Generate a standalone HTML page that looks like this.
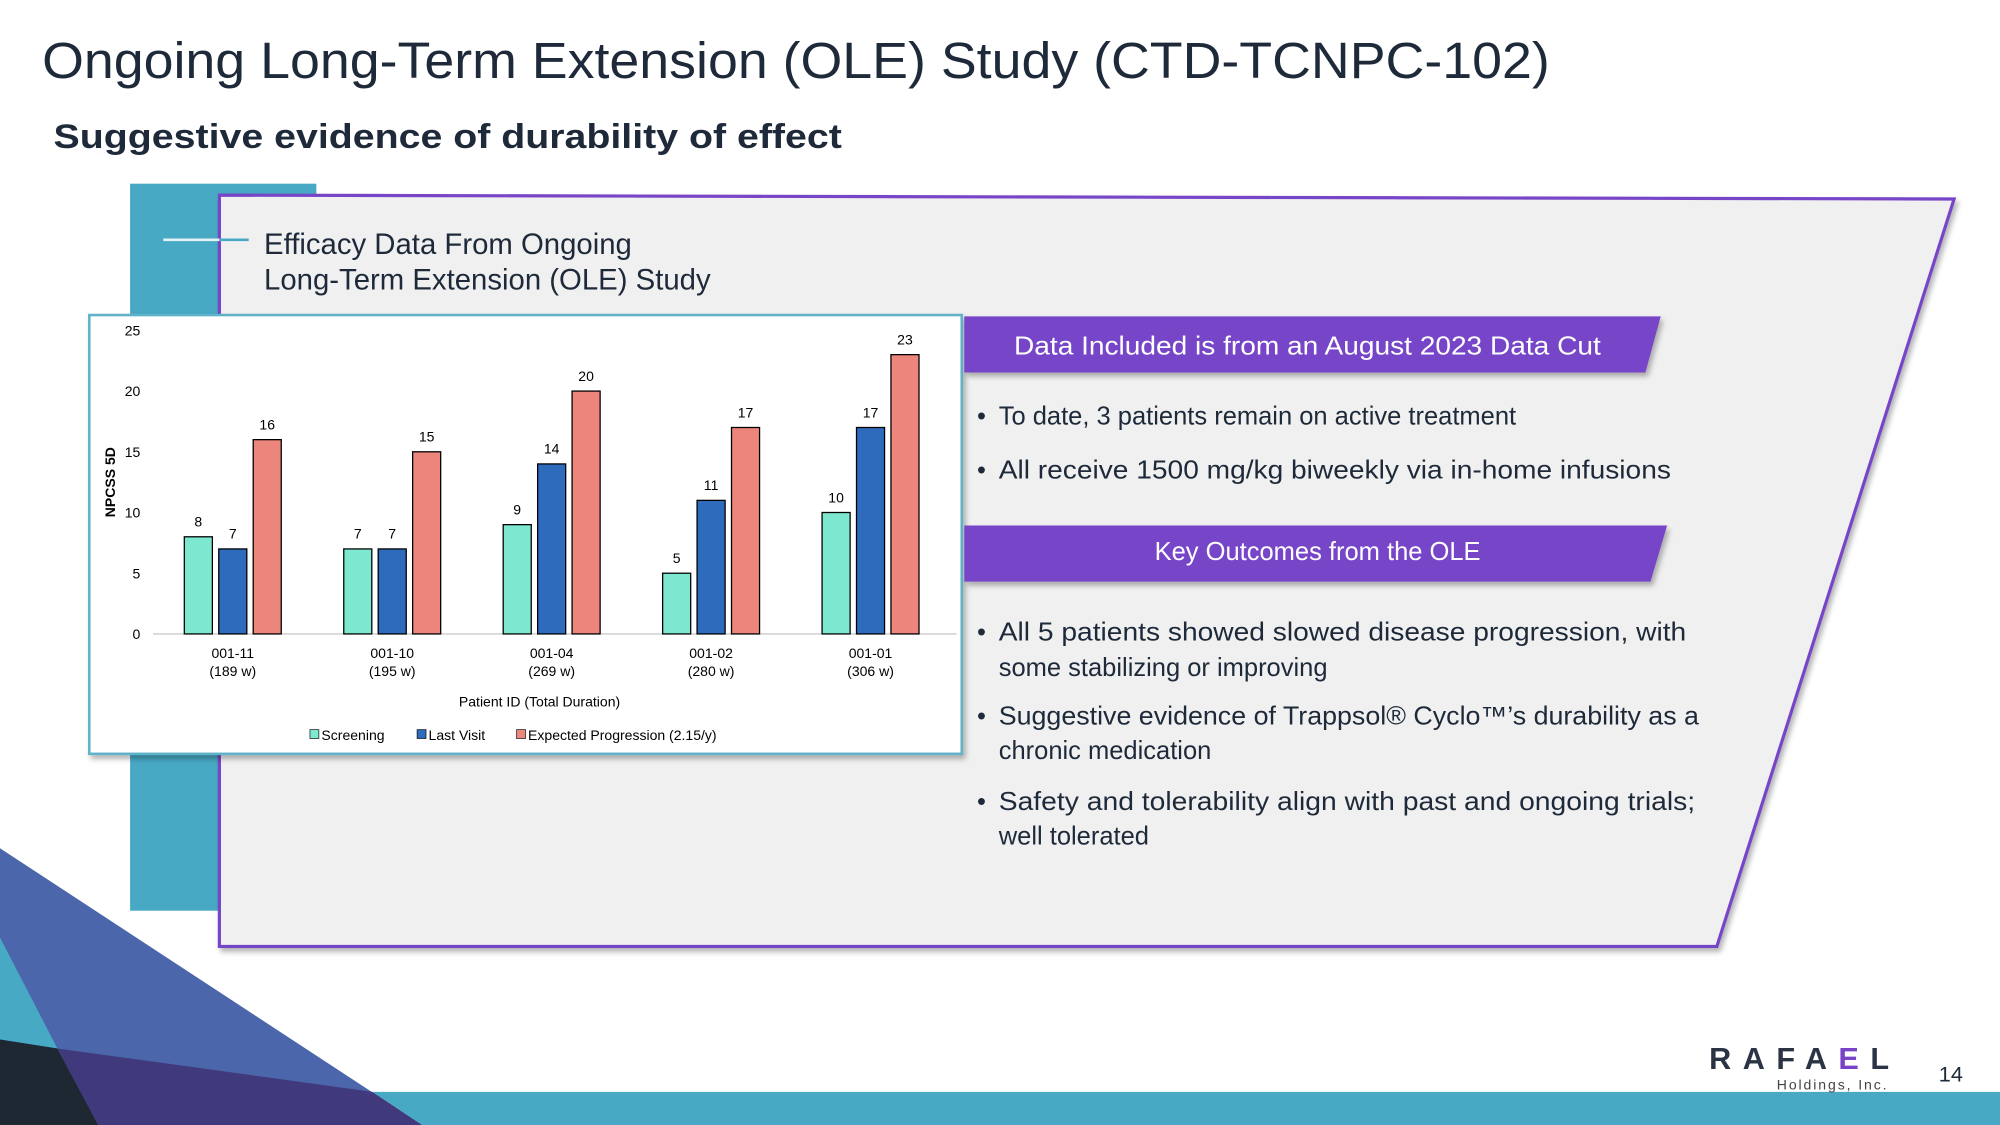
<!DOCTYPE html>
<html><head><meta charset="utf-8">
<style>
html,body{margin:0;padding:0;background:#fff;}
svg{display:block;}
text{font-family:"Liberation Sans",sans-serif;}
</style></head>
<body>
<svg width="2000" height="1125" viewBox="0 0 1568 882" xmlns="http://www.w3.org/2000/svg">
<defs>
<filter id="sh" x="-5%" y="-5%" width="112%" height="120%"><feDropShadow dx="2" dy="3" stdDeviation="2" flood-color="#000" flood-opacity="0.3"/></filter>
</defs>
<rect width="1568" height="882" fill="#fff"/>
<text x="33" y="61" font-size="40" fill="#1e2a3a" textLength="1182" lengthAdjust="spacingAndGlyphs">Ongoing Long-Term Extension (OLE) Study (CTD-TCNPC-102)</text>
<text x="42" y="116" font-size="27" font-weight="bold" fill="#1e2a3a" textLength="618" lengthAdjust="spacingAndGlyphs">Suggestive evidence of durability of effect</text>

<rect x="102" y="144" width="146" height="570" fill="#48a9c5"/>
<polygon points="172,153 1532,156 1346,742 172,742" fill="#f0f0f0" stroke="#7744c8" stroke-width="2.5" filter="url(#sh)"/>
<line x1="128" y1="188" x2="172" y2="188" stroke="#e4f3f7" stroke-width="2"/>
<line x1="172" y1="188" x2="195" y2="188" stroke="#48a9c5" stroke-width="2"/>
<text x="207" y="199" font-size="23" fill="#1e2a3a">Efficacy Data From Ongoing</text>
<text x="207" y="227" font-size="23" fill="#1e2a3a">Long-Term Extension (OLE) Study</text>

<g>
<rect x="70" y="247" width="684" height="344" fill="#fff" stroke="#5fb3c9" stroke-width="2" filter="url(#sh)"/>
<g id="chartg"></g>
<text transform="translate(90,378) rotate(-90)" text-anchor="middle" font-size="11" font-weight="bold" fill="#000">NPCSS 5D</text>
<text x="423" y="554" text-anchor="middle" font-size="11" fill="#000">Patient ID (Total Duration)</text>
<g font-size="11">
<rect x="243" y="572" width="7" height="7" fill="#7de8cf" stroke="#000" stroke-width="0.5"/>
<text x="252" y="580">Screening</text>
<rect x="327" y="572" width="7" height="7" fill="#2e6bbd" stroke="#000" stroke-width="0.5"/>
<text x="336" y="580">Last Visit</text>
<rect x="405" y="572" width="7" height="7" fill="#ec857c" stroke="#000" stroke-width="0.5"/>
<text x="414" y="580">Expected Progression (2.15/y)</text>
</g>
</g>

<polygon points="756,248 1302,248 1290,292 756,292" fill="#7744c8" filter="url(#sh)"/>
<text x="1025" y="278" text-anchor="middle" font-size="20" fill="#fff" textLength="460" lengthAdjust="spacingAndGlyphs">Data Included is from an August 2023 Data Cut</text>
<g font-size="20" fill="#1e2a3a">
<text x="766" y="333">•  <tspan x="783">To date, 3 patients remain on active treatment</tspan></text>
<text x="766" y="375">•  <tspan x="783" textLength="527" lengthAdjust="spacingAndGlyphs">All receive 1500 mg/kg biweekly via in-home infusions</tspan></text>
</g>
<polygon points="756,412 1307,412 1294,456 756,456" fill="#7744c8" filter="url(#sh)"/>
<text x="1033" y="439" text-anchor="middle" font-size="20" fill="#fff">Key Outcomes from the OLE</text>
<g font-size="20" fill="#1e2a3a">
<text x="766" y="502">•<tspan x="783" textLength="539" lengthAdjust="spacingAndGlyphs">All 5 patients showed slowed disease progression, with</tspan></text>
<text x="783" y="530">some stabilizing or improving</text>
<text x="766" y="568">•<tspan x="783" textLength="549" lengthAdjust="spacingAndGlyphs">Suggestive evidence of Trappsol® Cyclo™’s durability as a</tspan></text>
<text x="783" y="595">chronic medication</text>
<text x="766" y="635">•<tspan x="783" textLength="546" lengthAdjust="spacingAndGlyphs">Safety and tolerability align with past and ongoing trials;</tspan></text>
<text x="783" y="662">well tolerated</text>
</g>

<polygon points="0,665 331,882 0,882" fill="#4b66ab"/>
<polygon points="0,735 45,822 0,815" fill="#48a9c5"/>
<polygon points="0,815 45,822 77,882 0,882" fill="#1e2832"/>
<polygon points="45,822 292,856 331,882 77,882" fill="#403a7c"/>
<polygon points="292,856 1568,856 1568,882 331,882" fill="#48a9c5"/>

<text x="1340" y="838" font-size="24" font-weight="bold" fill="#2a3444" letter-spacing="9">RAFA<tspan fill="#7744c8">E</tspan>L</text>
<text x="1393" y="854" font-size="11" fill="#444" letter-spacing="1.5">Holdings, Inc.</text>
<text x="1520" y="848" font-size="17" fill="#1e2a3a">14</text>
</svg>
<script>
const categories = ["001-11","001-10","001-04","001-02","001-01"];
const durations = ["(189 w)","(195 w)","(269 w)","(280 w)","(306 w)"];
const screening = [8,7,9,5,10];
const lastVisit = [7,7,14,11,17];
const expected = [16,15,20,17,23];
const yTicks = [0,5,10,15,20,25];
const NS="http://www.w3.org/2000/svg";
const g=document.getElementById('chartg');
const plotL=120, plotR=745, y0=497, yTop=259, yMax=25;
const yS=v=>y0-(y0-yTop)*v/yMax;
const grpW=(plotR-plotL)/categories.length;
const xC=i=>plotL+grpW*(i+0.5);
function mk(tag,attrs){const e=document.createElementNS(NS,tag);for(const k in attrs)e.setAttribute(k,attrs[k]);g.appendChild(e);return e;}
const axis=mk('line',{x1:plotL,x2:plotR+5,y1:y0,y2:y0,stroke:'#ccc','stroke-width':1});


yTicks.forEach(t=>{
  const e=mk('text',{x:110,y:yS(t)+4,'text-anchor':'end','font-size':11});
  e.textContent=t;
  
  
});
const series=[[screening,'#7de8cf','screening'],[lastVisit,'#2e6bbd','last-visit'],[expected,'#ec857c','expected']];
const bw=22, gap=5;
categories.forEach((c,i)=>{
  series.forEach((s,j)=>{
    const v=s[0][i];
    const x=xC(i)+(j-1)*(bw+gap)-bw/2;
    const r=mk('rect',{x:x,y:yS(v),width:bw,height:y0-yS(v),fill:s[1],stroke:'#000','stroke-width':1});
    
    
    const l=mk('text',{x:x+bw/2,y:yS(v)-8,'text-anchor':'middle','font-size':11});
    l.textContent=v;
    
    
  });
  const t1=mk('text',{x:xC(i),y:516,'text-anchor':'middle','font-size':11});
  t1.textContent=c;
  
  
  const t2=mk('text',{x:xC(i),y:530,'text-anchor':'middle','font-size':11});
  t2.textContent=durations[i];
  
  
});
</script>
</body></html>
